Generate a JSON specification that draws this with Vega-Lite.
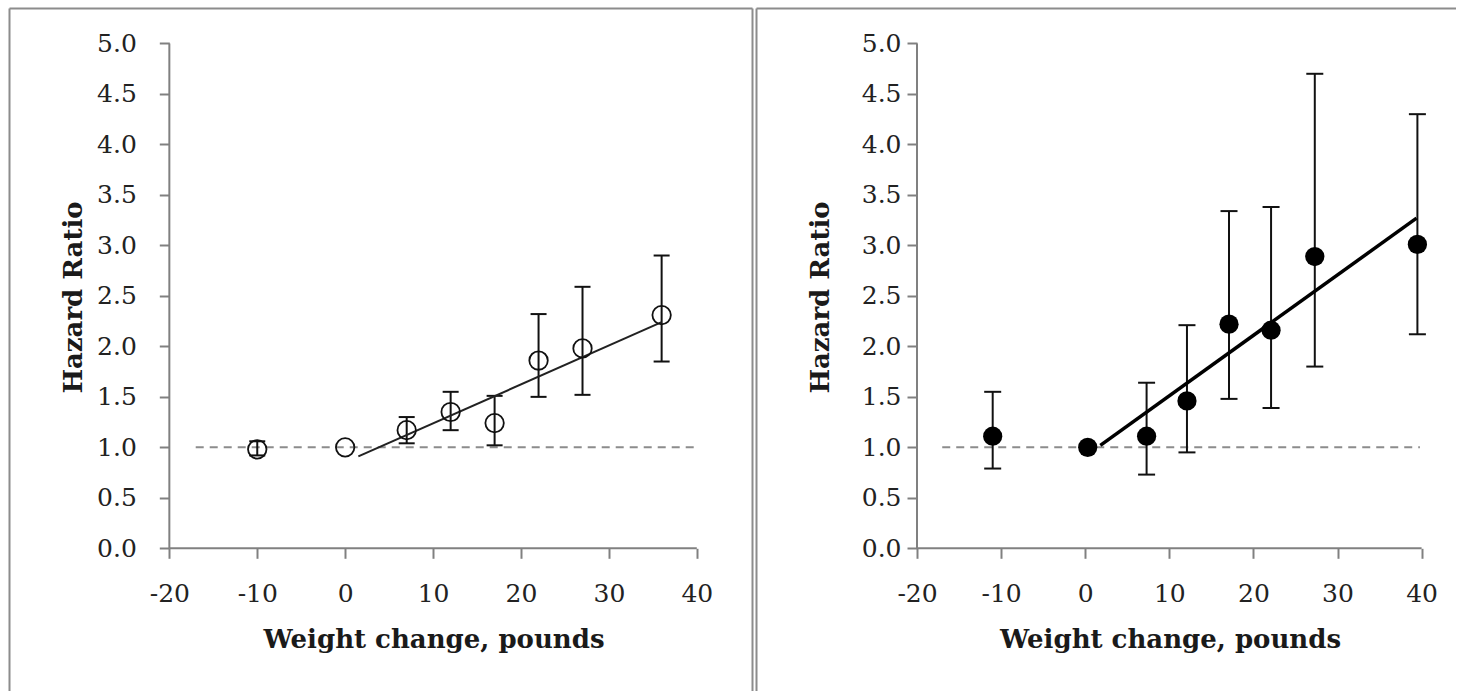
{
  "$schema": "https://vega.github.io/schema/vega-lite/v6.json",
  "background": "white",
  "padding": {"left": 9, "top": 8, "right": 0, "bottom": 0},
  "bounds": "flush",
  "spacing": 4,
  "datasets": {
    "left": [
      {"w": -10, "hr": 0.98, "lo": 0.92, "hi": 1.06},
      {"w": 0, "hr": 1.0, "lo": null, "hi": null},
      {"w": 7, "hr": 1.17, "lo": 1.04, "hi": 1.30},
      {"w": 12, "hr": 1.35, "lo": 1.17, "hi": 1.55},
      {"w": 17, "hr": 1.24, "lo": 1.02, "hi": 1.51},
      {"w": 22, "hr": 1.86, "lo": 1.50, "hi": 2.32},
      {"w": 27, "hr": 1.98, "lo": 1.52, "hi": 2.59},
      {"w": 36, "hr": 2.31, "lo": 1.85, "hi": 2.90}
    ],
    "leftFit": [
      {"w": 1.5, "fit": 0.91},
      {"w": 36, "fit": 2.24}
    ],
    "right": [
      {"w": -11, "hr": 1.11, "lo": 0.79, "hi": 1.55},
      {"w": 0.3, "hr": 1.0, "lo": null, "hi": null},
      {"w": 7.3, "hr": 1.11, "lo": 0.73, "hi": 1.64},
      {"w": 12.1, "hr": 1.46, "lo": 0.95, "hi": 2.21},
      {"w": 17.1, "hr": 2.22, "lo": 1.48, "hi": 3.34},
      {"w": 22.1, "hr": 2.16, "lo": 1.39, "hi": 3.38},
      {"w": 27.3, "hr": 2.89, "lo": 1.80, "hi": 4.70},
      {"w": 39.5, "hr": 3.01, "lo": 2.12, "hi": 4.30}
    ],
    "rightFit": [
      {"w": 1.8, "fit": 1.02},
      {"w": 39.4, "fit": 3.27}
    ],
    "one": [{}]
  },
  "hconcat": [
    {
      "width": 743,
      "height": 683,
      "view": {"stroke": null},
      "resolve": {"axis": {"x": "independent", "y": "independent"}},
      "layer": [
        {
          "data": {"name": "one"},
          "mark": {"type": "rule", "color": "#8c8c8c", "strokeWidth": 2, "strokeDash": [8, 6]},
          "encoding": {
            "x": {"datum": -17, "type": "quantitative",
                  "axis": {"orient": "top", "domain": true, "domainColor": "#8c8c8c", "domainWidth": 2, "ticks": false, "labels": false, "title": null, "offset": 0}},
            "x2": {"datum": 40},
            "y": {"datum": 1, "type": "quantitative",
                  "axis": {"orient": "left", "domain": true, "domainColor": "#8c8c8c", "domainWidth": 2, "ticks": false, "labels": false, "title": null, "offset": 0}}
          }
        },
        {
          "data": {"name": "one"},
          "mark": {"type": "rule", "color": "#808080", "strokeWidth": 2},
          "encoding": {
            "x": {"datum": -20, "type": "quantitative", "axis": null},
            "x2": {"datum": 40},
            "y": {"datum": 0, "type": "quantitative",
                  "axis": {"orient": "right", "domain": true, "domainColor": "#8c8c8c", "domainWidth": 2, "ticks": false, "labels": false, "title": null, "offset": 0}}
          }
        },
        {
          "data": {"name": "one"},
          "mark": {"type": "rule", "color": "#808080", "strokeWidth": 2},
          "encoding": {
            "x": {"datum": -20, "type": "quantitative", "axis": null},
            "y": {"datum": 0, "type": "quantitative", "axis": null},
            "y2": {"datum": 5}
          }
        },
        {
          "data": {"name": "left"},
          "mark": {"type": "rule", "color": "#111111", "strokeWidth": 2},
          "encoding": {
            "x": {"field": "w", "type": "quantitative", "axis": null},
            "y": {"field": "lo", "type": "quantitative", "axis": null},
            "y2": {"field": "hi"}
          }
        },
        {
          "data": {"name": "left"},
          "mark": {"type": "tick", "orient": "horizontal", "size": 16, "thickness": 2, "color": "#111111", "opacity": 1},
          "encoding": {
            "x": {"field": "w", "type": "quantitative", "axis": null},
            "y": {"field": "lo", "type": "quantitative", "axis": null}
          }
        },
        {
          "data": {"name": "left"},
          "mark": {"type": "tick", "orient": "horizontal", "size": 16, "thickness": 2, "color": "#111111", "opacity": 1},
          "encoding": {
            "x": {"field": "w", "type": "quantitative", "axis": null},
            "y": {"field": "hi", "type": "quantitative", "axis": null}
          }
        },
        {
          "data": {"name": "leftFit"},
          "mark": {"type": "line", "color": "#222222", "strokeWidth": 2},
          "encoding": {
            "x": {"field": "w", "type": "quantitative", "axis": null},
            "y": {"field": "fit", "type": "quantitative", "axis": null}
          }
        },
        {
          "data": {"name": "left"},
          "mark": {"type": "point", "shape": "circle", "filled": false, "stroke": "#111111", "strokeWidth": 1.8, "size": 340, "opacity": 1},
          "encoding": {
            "x": {
              "field": "w", "type": "quantitative",
              "scale": {"domain": [-38.24, 46.28], "nice": false, "zero": false},
              "axis": {
                "orient": "bottom",
                "title": "Weight change, pounds",
                "values": [-20, -10, 0, 10, 20, 30, 40],
                "labelExpr": "datum.value + ''",
                "offset": -142.7,
                "labelPadding": 23,
                "titleX": 424.5,
                "titleY": 98.7,
                "titleAlign": "center",
                "titleBaseline": "alphabetic",
                "titleAngle": 0
              }
            },
            "y": {
              "field": "hr", "type": "quantitative",
              "scale": {"domain": [-1.4134, 5.3516], "nice": false, "zero": false},
              "axis": {
                "orient": "left",
                "title": "Hazard Ratio",
                "values": [0, 0.5, 1, 1.5, 2, 2.5, 3, 3.5, 4, 4.5, 5],
                "format": ".1f",
                "offset": -160.3,
                "labelPadding": 23,
                "titleX": -88.3,
                "titleY": 289,
                "titleAlign": "center",
                "titleBaseline": "alphabetic",
                "titleAngle": -90
              }
            }
          }
        }
      ]
    },
    {
      "width": 700,
      "height": 683,
      "view": {"stroke": null},
      "resolve": {"axis": {"x": "independent", "y": "independent"}},
      "layer": [
        {
          "data": {"name": "one"},
          "mark": {"type": "rule", "color": "#8c8c8c", "strokeWidth": 2, "strokeDash": [8, 6]},
          "encoding": {
            "x": {"datum": -17, "type": "quantitative",
                  "axis": {"orient": "top", "domain": true, "domainColor": "#8c8c8c", "domainWidth": 2, "ticks": false, "labels": false, "title": null, "offset": 0}},
            "x2": {"datum": 39.8},
            "y": {"datum": 1, "type": "quantitative",
                  "axis": {"orient": "left", "domain": true, "domainColor": "#8c8c8c", "domainWidth": 2, "ticks": false, "labels": false, "title": null, "offset": 0}}
          }
        },
        {
          "data": {"name": "one"},
          "mark": {"type": "rule", "color": "#808080", "strokeWidth": 2},
          "encoding": {
            "x": {"datum": -20, "type": "quantitative", "axis": null},
            "x2": {"datum": 40},
            "y": {"datum": 0, "type": "quantitative", "axis": null}
          }
        },
        {
          "data": {"name": "one"},
          "mark": {"type": "rule", "color": "#808080", "strokeWidth": 2},
          "encoding": {
            "x": {"datum": -20, "type": "quantitative", "axis": null},
            "y": {"datum": 0, "type": "quantitative", "axis": null},
            "y2": {"datum": 5}
          }
        },
        {
          "data": {"name": "right"},
          "mark": {"type": "rule", "color": "#111111", "strokeWidth": 2},
          "encoding": {
            "x": {"field": "w", "type": "quantitative", "axis": null},
            "y": {"field": "lo", "type": "quantitative", "axis": null},
            "y2": {"field": "hi"}
          }
        },
        {
          "data": {"name": "right"},
          "mark": {"type": "tick", "orient": "horizontal", "size": 17, "thickness": 2, "color": "#111111", "opacity": 1},
          "encoding": {
            "x": {"field": "w", "type": "quantitative", "axis": null},
            "y": {"field": "lo", "type": "quantitative", "axis": null}
          }
        },
        {
          "data": {"name": "right"},
          "mark": {"type": "tick", "orient": "horizontal", "size": 17, "thickness": 2, "color": "#111111", "opacity": 1},
          "encoding": {
            "x": {"field": "w", "type": "quantitative", "axis": null},
            "y": {"field": "hi", "type": "quantitative", "axis": null}
          }
        },
        {
          "data": {"name": "rightFit"},
          "mark": {"type": "line", "color": "#000000", "strokeWidth": 3.5},
          "encoding": {
            "x": {"field": "w", "type": "quantitative", "axis": null},
            "y": {"field": "fit", "type": "quantitative", "axis": null}
          }
        },
        {
          "data": {"name": "right"},
          "mark": {"type": "circle", "color": "#000000", "size": 370, "opacity": 1},
          "encoding": {
            "x": {
              "field": "w", "type": "quantitative",
              "scale": {"domain": [-39.144, 44.09], "nice": false, "zero": false},
              "axis": {
                "orient": "bottom",
                "title": "Weight change, pounds",
                "values": [-20, -10, 0, 10, 20, 30, 40],
                "labelExpr": "datum.value + ''",
                "offset": -142.7,
                "labelPadding": 23,
                "titleX": 414,
                "titleY": 98.7,
                "titleAlign": "center",
                "titleBaseline": "alphabetic",
                "titleAngle": 0
              }
            },
            "y": {
              "field": "hr", "type": "quantitative",
              "scale": {"domain": [-1.4134, 5.3516], "nice": false, "zero": false},
              "axis": {
                "orient": "left",
                "title": "Hazard Ratio",
                "values": [0, 0.5, 1, 1.5, 2, 2.5, 3, 3.5, 4, 4.5, 5],
                "format": ".1f",
                "offset": -161,
                "labelPadding": 6,
                "titleX": -89,
                "titleY": 289,
                "titleAlign": "center",
                "titleBaseline": "alphabetic",
                "titleAngle": -90
              }
            }
          }
        }
      ]
    }
  ],
  "config": {
    "view": {"stroke": null},
    "axis": {
      "grid": false,
      "domain": false,
      "ticks": true,
      "tickColor": "#808080",
      "tickWidth": 2,
      "tickSize": 10,
      "labelFont": "DejaVu Serif",
      "labelFontSize": 25,
      "labelColor": "#222222",
      "labelOverlap": false,
      "labelFlush": false,
      "labelBound": false,
      "titleFont": "DejaVu Serif",
      "titleFontSize": 26,
      "titleFontWeight": "bold",
      "titleColor": "#1a1a1a"
    }
  }
}
